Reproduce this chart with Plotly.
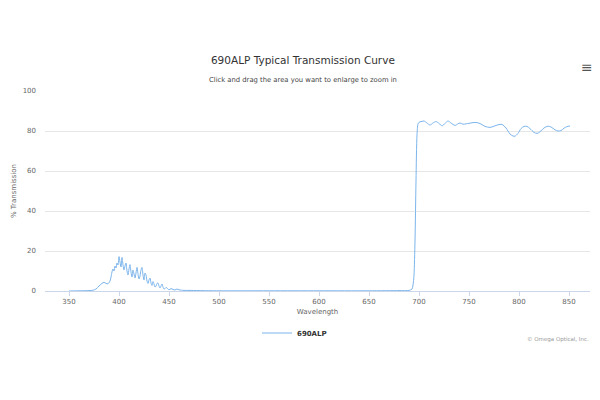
import plotly.graph_objects as go

# Transmission data
wavelength = [350, 360, 370, 374, 377, 380, 383, 385, 387, 389, 391, 392, 393, 394, 395, 396, 397, 398, 399,
              400, 401, 402, 403, 404, 405, 406, 407, 408, 409, 410, 411, 412, 413, 414, 415, 416, 417, 418, 419,
              420, 421, 422, 423, 424, 425, 426, 427, 428, 429, 430, 431, 432, 433, 434, 435, 436, 437, 438, 439,
              440, 441, 442, 443, 444, 445, 446, 447, 448, 450, 452, 454, 456, 458, 460, 465, 470, 480, 500, 550,
              600, 650, 680, 690, 693, 694, 695, 696, 697, 698, 699, 700, 701, 703, 705, 708, 711, 714, 717, 720,
              723, 726, 729, 732, 736, 739, 741, 744, 747, 750, 754, 758, 762, 766, 771, 775, 779, 783, 787, 791,
              794, 796, 799, 802, 805, 808, 811, 815, 818, 821, 825, 829, 832, 836, 839, 842, 845, 848, 851]
transmission = [0.0, 0.1, 0.2, 0.4, 1.0, 2.5, 3.8, 4.3, 3.8, 3.6, 5.0, 7.0, 9.5, 11.0, 10.0, 12.5, 11.5, 14.0, 13.0,
                17.2, 14.5, 12.0, 16.8, 13.0, 10.5, 12.5, 14.0, 10.0, 8.0, 11.0, 13.2, 9.5, 7.0, 10.5, 8.5, 6.5, 9.0,
                11.8, 8.5, 6.0, 7.5, 10.5, 11.8, 8.0, 5.5, 9.0, 8.0, 5.0, 3.8, 5.5, 6.5, 4.0, 2.8, 4.7, 3.5, 2.0, 2.5,
                3.8, 4.0, 2.5, 1.5, 2.5, 3.5, 2.0, 1.0, 1.2, 1.8, 1.5, 0.6, 1.2, 0.8, 0.5, 1.0, 0.6, 0.3, 0.3, 0.2,
                0.1, 0.1, 0.1, 0.1, 0.2, 0.3, 1.0, 3.0, 8.0, 25.0, 55.0, 78.0, 83.5, 84.3, 84.6, 84.8, 85.0, 84.0,
                83.0, 84.0, 84.7, 83.8, 82.6, 83.8, 85.0, 84.0, 82.8, 83.6, 84.0, 83.4, 83.6, 83.8, 84.2, 84.2, 83.5,
                82.3, 81.8, 82.4, 83.1, 83.3, 81.5, 78.5, 77.5, 77.4, 78.8, 81.2, 82.3, 82.3, 81.2, 79.3, 78.8, 79.6,
                81.5, 82.4, 82.0, 80.6, 80.0, 80.2, 81.4, 82.2, 82.5]

x_ticks = [350, 400, 450, 500, 550, 600, 650, 700, 750, 800, 850]
y_ticks = [0, 20, 40, 60, 80, 100]

font_family = 'DejaVu Sans'

# page body has an 8px margin, so the figure is kept smaller than the window
fig = go.Figure()
fig.add_trace(go.Scatter(x=wavelength,
                         y=transmission,
                         mode='lines',
                         name='<b>690ALP</b>',
                         line=dict(color='#7cb5ec', width=1, shape='spline', smoothing=0.8)
                         ))
fig.update_layout(
    width=584,
    height=384,
    autosize=False,
    paper_bgcolor='white',
    plot_bgcolor='white',
    font=dict(family=font_family, color='#666666', size=7),
    margin=dict(l=37, r=2, t=83, b=101, autoexpand=False),
    title=dict(text='690ALP Typical Transmission Curve', x=0.505, xref='container', xanchor='center',
               y=0.865, yref='container', yanchor='middle',
               font=dict(family=font_family, size=10.5, color='#333333')),
    xaxis=dict(
        title=dict(text='Wavelength', font=dict(size=7, color='#666666'), standoff=3),
        range=[326, 871],
        tickvals=x_ticks,
        ticks='outside',
        ticklen=4,
        tickcolor='#ccd6eb',
        showline=True,
        linecolor='#ccd6eb',
        showgrid=False,
        zeroline=False
    ),
    yaxis=dict(
        title=dict(text='% Transmission', font=dict(size=7, color='#666666'), standoff=5),
        range=[0, 100],
        tickvals=y_ticks,
        ticklabelstandoff=8,
        showgrid=True,
        gridcolor='#e6e6e6',
        zeroline=False,
        ticks='',
        showline=False
    ),
    showlegend=True,
    legend=dict(
        orientation='h',
        x=0.389,
        xanchor='left',
        y=-0.21,
        yanchor='middle',
        font=dict(size=7, color='#333333'),
        bgcolor='rgba(255, 255, 255, 0)'
    ),
    annotations=[
        dict(text='Click and drag the area you want to enlarge to zoom in', xref='paper', yref='paper',
             x=0.473, y=1.055, xanchor='center', yanchor='middle', showarrow=False,
             font=dict(size=6.8, color='#444444')),
        dict(text='≡', xref='paper', yref='paper', x=0.994, y=1.12, xanchor='center',
             yanchor='middle', showarrow=False, font=dict(size=14, color='#555555')),
        dict(text='© Omega Optical, Inc.', xref='paper', yref='paper', x=1.002, y=-0.24,
             xanchor='right', yanchor='middle', showarrow=False, font=dict(size=5.5, color='#999999'))
    ]
)
fig.write_html('out.html', config={'displayModeBar': False})
